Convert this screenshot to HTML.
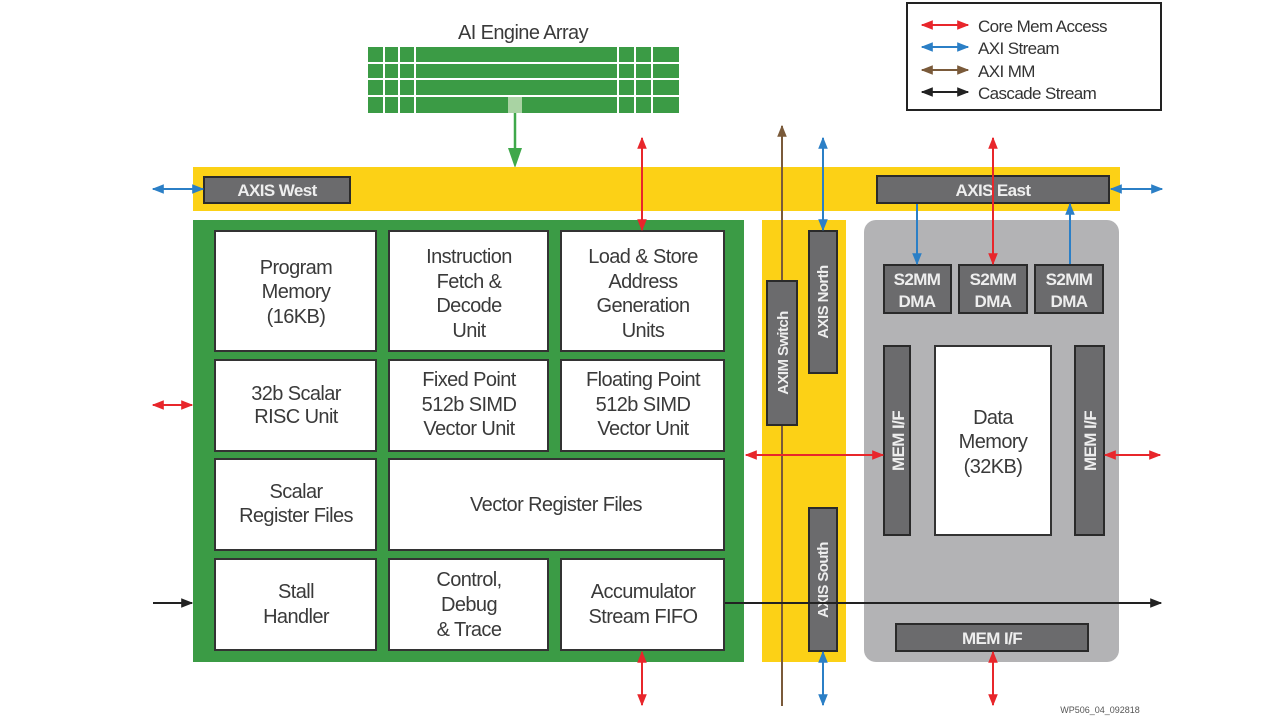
<!DOCTYPE html>
<html><head><meta charset="utf-8"><style>
html,body{margin:0;padding:0;background:#fff;width:1280px;height:721px;overflow:hidden}
svg{display:block}
.t{font-family:"Liberation Sans",sans-serif;fill:#3a3a3a;font-size:20px;text-anchor:middle;letter-spacing:-0.6px}
.w{font-family:"Liberation Sans",sans-serif;fill:#eee;font-size:17px;text-anchor:middle;letter-spacing:-0.6px;font-weight:bold}
.v{font-family:"Liberation Sans",sans-serif;fill:#eee;font-size:15px;text-anchor:middle;letter-spacing:-0.6px;font-weight:bold}
.l{font-family:"Liberation Sans",sans-serif;fill:#333;font-size:17px;letter-spacing:-0.6px}
.cell{fill:#fff;stroke:#333;stroke-width:2}
.dk{fill:#6b6b6d;stroke:#2a2a2a;stroke-width:2}
</style></head><body>
<svg width="1280" height="721" viewBox="0 0 1280 721" xmlns="http://www.w3.org/2000/svg">
<defs>
<marker id="r" viewBox="0 0 10 10" refX="9" refY="5" markerWidth="6" markerHeight="6" orient="auto-start-reverse"><path d="M0,1 L10,5 L0,9 z" fill="#e8262b"/></marker>
<marker id="b" viewBox="0 0 10 10" refX="9" refY="5" markerWidth="6" markerHeight="6" orient="auto-start-reverse"><path d="M0,1 L10,5 L0,9 z" fill="#2b7fc6"/></marker>
<marker id="k" viewBox="0 0 10 10" refX="9" refY="5" markerWidth="6" markerHeight="6" orient="auto-start-reverse"><path d="M0,1 L10,5 L0,9 z" fill="#222"/></marker>
<marker id="n" viewBox="0 0 10 10" refX="9" refY="5" markerWidth="6" markerHeight="6" orient="auto-start-reverse"><path d="M0,1 L10,5 L0,9 z" fill="#7a5a3a"/></marker>
</defs>

<text class="t" x="523" y="39">AI Engine Array</text>
<rect x="368" y="47" width="311" height="66" fill="#3b9b45"/>
<g stroke="#fff" stroke-width="2">
<line x1="368" y1="63" x2="679" y2="63"/><line x1="368" y1="79" x2="679" y2="79"/><line x1="368" y1="96" x2="679" y2="96"/>
<line x1="384" y1="47" x2="384" y2="113"/><line x1="399" y1="47" x2="399" y2="113"/><line x1="415" y1="47" x2="415" y2="113"/>
<line x1="618" y1="47" x2="618" y2="113"/><line x1="635" y1="47" x2="635" y2="113"/><line x1="652" y1="47" x2="652" y2="113"/>
</g>
<rect x="508" y="97" width="14" height="16" fill="#a9d3a3"/>
<line x1="515" y1="113" x2="515" y2="150" stroke="#3fa84a" stroke-width="2.5"/>
<polygon points="508,148 522,148 515,168" fill="#3fa84a"/>

<rect x="907" y="3" width="254" height="107" fill="#fff" stroke="#222" stroke-width="2"/>
<line x1="922" y1="25" x2="968" y2="25" stroke="#e8262b" stroke-width="2" marker-start="url(#r)" marker-end="url(#r)"/>
<line x1="922" y1="47" x2="968" y2="47" stroke="#2b7fc6" stroke-width="2" marker-start="url(#b)" marker-end="url(#b)"/>
<line x1="922" y1="70" x2="968" y2="70" stroke="#7a5a3a" stroke-width="2" marker-start="url(#n)" marker-end="url(#n)"/>
<line x1="922" y1="92" x2="968" y2="92" stroke="#222" stroke-width="2" marker-start="url(#k)" marker-end="url(#k)"/>
<text class="l" x="978" y="32">Core Mem Access</text>
<text class="l" x="978" y="54">AXI Stream</text>
<text class="l" x="978" y="77">AXI MM</text>
<text class="l" x="978" y="99">Cascade Stream</text>

<rect x="193" y="167" width="927" height="44" fill="#fcd116"/>
<rect x="204" y="177" width="146" height="26" class="dk"/>
<text class="w" x="277" y="196">AXIS West</text>
<rect x="877" y="176" width="232" height="27" class="dk"/>
<text class="w" x="993" y="196">AXIS East</text>

<rect x="193" y="220" width="551" height="442" fill="#3b9b45"/>
<rect class="cell" x="215" y="231" width="161" height="120"/>
<rect class="cell" x="389" y="231" width="159" height="120"/>
<rect class="cell" x="561" y="231" width="163" height="120"/>
<rect class="cell" x="215" y="360" width="161" height="91"/>
<rect class="cell" x="389" y="360" width="159" height="91"/>
<rect class="cell" x="561" y="360" width="163" height="91"/>
<rect class="cell" x="215" y="459" width="161" height="91"/>
<rect class="cell" x="389" y="459" width="335" height="91"/>
<rect class="cell" x="215" y="559" width="161" height="91"/>
<rect class="cell" x="389" y="559" width="159" height="91"/>
<rect class="cell" x="561" y="559" width="163" height="91"/>
<g class="t">
<text x="296" y="274">Program</text><text x="296" y="298">Memory</text><text x="296" y="323">(16KB)</text>
<text x="469" y="263">Instruction</text><text x="469" y="288">Fetch &amp;</text><text x="469" y="312">Decode</text><text x="469" y="337">Unit</text>
<text x="643" y="263">Load &amp; Store</text><text x="643" y="288">Address</text><text x="643" y="312">Generation</text><text x="643" y="337">Units</text>
<text x="296" y="400">32b Scalar</text><text x="296" y="423">RISC Unit</text>
<text x="469" y="386">Fixed Point</text><text x="469" y="411">512b SIMD</text><text x="469" y="435">Vector Unit</text>
<text x="643" y="386">Floating Point</text><text x="643" y="411">512b SIMD</text><text x="643" y="435">Vector Unit</text>
<text x="296" y="498">Scalar</text><text x="296" y="522">Register Files</text>
<text x="556" y="511">Vector Register Files</text>
<text x="296" y="598">Stall</text><text x="296" y="623">Handler</text>
<text x="469" y="586">Control,</text><text x="469" y="611">Debug</text><text x="469" y="636">&amp; Trace</text>
<text x="643" y="598">Accumulator</text><text x="643" y="623">Stream FIFO</text>
</g>

<rect x="762" y="220" width="84" height="442" fill="#fcd116"/>
<line x1="782" y1="126" x2="782" y2="706" stroke="#7a5a3a" stroke-width="2" marker-start="url(#n)"/>
<rect x="767" y="281" width="30" height="144" class="dk"/>
<rect x="809" y="231" width="28" height="142" class="dk"/>
<rect x="809" y="508" width="28" height="143" class="dk"/>
<text class="v" transform="translate(788,353) rotate(-90)">AXIM Switch</text>
<text class="v" transform="translate(828,302) rotate(-90)">AXIS North</text>
<text class="v" transform="translate(828,580) rotate(-90)">AXIS South</text>

<rect x="864" y="220" width="255" height="442" rx="12" fill="#b3b3b5"/>
<line x1="725" y1="603" x2="1161" y2="603" stroke="#222" stroke-width="2" marker-end="url(#k)"/>
<rect x="884" y="265" width="67" height="48" class="dk"/>
<rect x="959" y="265" width="68" height="48" class="dk"/>
<rect x="1035" y="265" width="68" height="48" class="dk"/>
<g class="w"><text x="917" y="285">S2MM</text><text x="917" y="307">DMA</text>
<text x="993" y="285">S2MM</text><text x="993" y="307">DMA</text>
<text x="1069" y="285">S2MM</text><text x="1069" y="307">DMA</text></g>
<rect x="884" y="346" width="26" height="189" class="dk"/>
<rect x="1075" y="346" width="29" height="189" class="dk"/>
<rect x="935" y="346" width="116" height="189" class="cell"/>
<text class="w" transform="translate(904,441) rotate(-90)">MEM I/F</text>
<text class="w" transform="translate(1096,441) rotate(-90)">MEM I/F</text>
<g class="t"><text x="993" y="424">Data</text><text x="993" y="448">Memory</text><text x="993" y="473">(32KB)</text></g>
<rect x="896" y="624" width="192" height="27" class="dk"/>
<text class="w" x="992" y="644">MEM I/F</text>

<g stroke-width="2" fill="none">
<line x1="642" y1="138" x2="642" y2="230" stroke="#e8262b" marker-start="url(#r)" marker-end="url(#r)"/>
<line x1="823" y1="138" x2="823" y2="230" stroke="#2b7fc6" marker-start="url(#b)" marker-end="url(#b)"/>
<line x1="993" y1="138" x2="993" y2="264" stroke="#e8262b" marker-start="url(#r)" marker-end="url(#r)"/>
<line x1="917" y1="204" x2="917" y2="264" stroke="#2b7fc6" marker-end="url(#b)"/>
<line x1="1070" y1="264" x2="1070" y2="204" stroke="#2b7fc6" marker-end="url(#b)"/>
<line x1="153" y1="189" x2="203" y2="189" stroke="#2b7fc6" marker-start="url(#b)" marker-end="url(#b)"/>
<line x1="1111" y1="189" x2="1162" y2="189" stroke="#2b7fc6" marker-start="url(#b)" marker-end="url(#b)"/>
<line x1="153" y1="405" x2="192" y2="405" stroke="#e8262b" marker-start="url(#r)" marker-end="url(#r)"/>
<line x1="746" y1="455" x2="883" y2="455" stroke="#e8262b" marker-start="url(#r)" marker-end="url(#r)"/>
<line x1="1105" y1="455" x2="1160" y2="455" stroke="#e8262b" marker-start="url(#r)" marker-end="url(#r)"/>
<line x1="153" y1="603" x2="192" y2="603" stroke="#222" marker-end="url(#k)"/>
<line x1="642" y1="652" x2="642" y2="705" stroke="#e8262b" marker-start="url(#r)" marker-end="url(#r)"/>
<line x1="823" y1="652" x2="823" y2="705" stroke="#2b7fc6" marker-start="url(#b)" marker-end="url(#b)"/>
<line x1="993" y1="652" x2="993" y2="705" stroke="#e8262b" marker-start="url(#r)" marker-end="url(#r)"/>
</g>
<text x="1100" y="713" font-family="Liberation Sans,sans-serif" font-size="9" fill="#555" text-anchor="middle">WP506_04_092818</text>
</svg>
</body></html>
